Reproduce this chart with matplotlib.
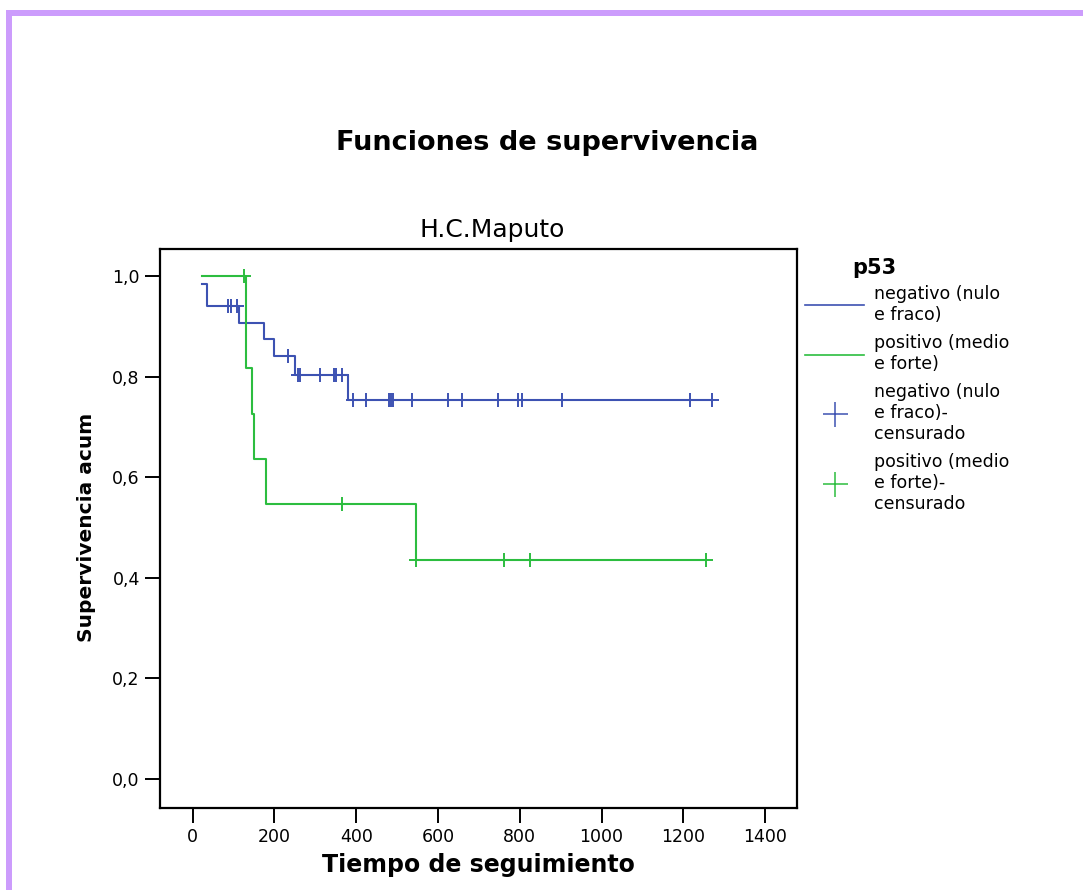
import matplotlib
matplotlib.use("Agg")
import matplotlib.pyplot as plt
import numpy as np
from matplotlib.lines import Line2D
from matplotlib.patches import Rectangle

# Kaplan-Meier step data
neg_times = [23, 34, 112, 175, 200, 250, 381, 1269]
neg_surv = [0.983, 0.940, 0.907, 0.874, 0.840, 0.803, 0.753, 0.753]
neg_censored = [87, 94, 108, 232, 258, 262, 312, 346, 350, 365,
                393, 424, 480, 486, 490, 537, 625, 658, 747, 796, 805,
                903, 1216, 1269]

pos_times = [23, 130, 146, 151, 180, 546, 1255]
pos_surv = [1.0, 0.817, 0.726, 0.636, 0.546, 0.435, 0.435]
pos_censored = [126, 365, 546, 761, 825, 1255]

x_ticks = [0, 200, 400, 600, 800, 1000, 1200, 1400]
y_ticks = [0.0, 0.2, 0.4, 0.6, 0.8, 1.0]
y_ticklabels = ['0,0', '0,2', '0,4', '0,6', '0,8', '1,0']

labels = ['negativo (nulo\ne fraco)', 'positivo (medio\ne forte)',
          'negativo (nulo\ne fraco)-\ncensurado',
          'positivo (medio\ne forte)-\ncensurado']

blue = '#3d52b2'
green = '#2cbd3f'


def surv_at(times, surv, t):
    # level of the step curve at time t
    i = np.searchsorted(times, t, side='right') - 1
    return np.asarray(surv)[max(i, 0)]


W, H = 1083, 890
fig = plt.figure(figsize=(W / 100, H / 100), dpi=100)
ax = fig.add_axes([160 / W, 1 - 807.7 / H, (797 - 160) / W, (807.7 - 248.7) / H])

ax.step(neg_times, neg_surv, where='post', color=blue, lw=1.5)
ax.step(pos_times, pos_surv, where='post', color=green, lw=1.5)

ax.plot(neg_censored, [surv_at(neg_times, neg_surv, t) for t in neg_censored],
        ls='none', marker='+', ms=10, mew=1.4, color=blue)
ax.plot(pos_censored, [surv_at(pos_times, pos_surv, t) for t in pos_censored],
        ls='none', marker='+', ms=10, mew=1.4, color=green)

ax.set_xlim(-80, 1478)
ax.set_ylim(-0.057, 1.054)
ax.set_xticks(x_ticks)
ax.set_yticks(y_ticks)
ax.set_yticklabels(y_ticklabels)
ax.tick_params(axis='both', labelsize=12.5, width=1.4, length=11, pad=3.5)
for s in ax.spines.values():
    s.set_linewidth(1.6)

fig.text(547 / W, 1 - 143 / H, 'Funciones de supervivencia', ha='center',
         va='center', fontsize=19.5, fontweight='bold')
fig.text(492 / W, 1 - 230 / H, 'H.C.Maputo', ha='center', va='center',
         fontsize=18)
fig.text(478 / W, 1 - 865 / H, 'Tiempo de seguimiento', ha='center',
         va='center', fontsize=17, fontweight='bold')
fig.text(87 / W, 1 - 527 / H, 'Supervivencia acum', ha='center', va='center',
         rotation=90, fontsize=14.5, fontweight='bold')

# legend
fig.text(852 / W, 1 - 268 / H, 'p53', ha='left', va='center', fontsize=15,
         fontweight='bold')
handles = [Line2D([], [], color=blue, lw=1.2),
           Line2D([], [], color=green, lw=1.2),
           Line2D([], [], color=blue, ls='none', marker='+', ms=10, mew=1.1),
           Line2D([], [], color=green, ls='none', marker='+', ms=10, mew=1.1)]
fig.legend(handles, labels, loc='upper left',
           bbox_to_anchor=(805 / W, 1 - 285 / H), frameon=False,
           fontsize=12.5, handlelength=3.4, handletextpad=0.6,
           labelspacing=0.6, borderpad=0, borderaxespad=0, markerscale=1.8)

# lavender page border
border = '#cc9cfc'
fig.add_artist(Rectangle((6 / W, 0), 6 / W, 1 - 10 / H,
                         transform=fig.transFigure, color=border, lw=0))
fig.add_artist(Rectangle((6 / W, 1 - 15.5 / H), 1, 5.5 / H,
                         transform=fig.transFigure, color=border, lw=0))

fig.savefig('out.png', dpi=100)
